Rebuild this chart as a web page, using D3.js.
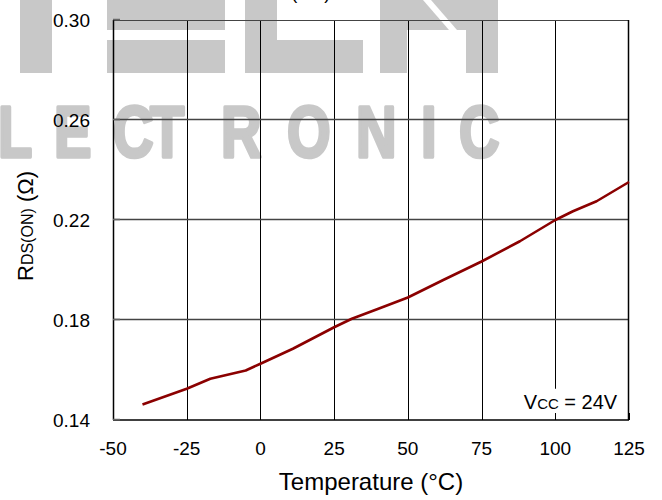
<!DOCTYPE html>
<html>
<head>
<meta charset="utf-8">
<script src="https://cdn.jsdelivr.net/npm/d3@7"></script>
<style>
  body { margin: 0; background: #fff; }
  text { font-family: "Liberation Sans", Arial, sans-serif; fill: #000; }
</style>
</head>
<body>
<div class="chart"></div>
<script>
// values
var temps = [-40, -25, -17, -5, 0, 11, 25, 31, 40, 50, 62, 75, 88, 100, 106, 114, 125];
var rdson = [0.1462, 0.1525, 0.1565, 0.1598, 0.1625, 0.1685, 0.1771, 0.1805, 0.1845, 0.1890, 0.1960, 0.2034, 0.2115, 0.2200, 0.2235, 0.2275, 0.2352];
var xTicks = [-50, -25, 0, 25, 50, 75, 100, 125];
var yTicks = [0.14, 0.18, 0.22, 0.26, 0.30];

var margin = { top: 20, right: 33, bottom: 80, left: 113 },
  width = 662 - margin.left - margin.right,
  height = 500 - margin.top - margin.bottom;

var root = d3.select(".chart").append("svg")
  .attr("width", 662)
  .attr("height", 500);

// watermark (behind everything)
var wm = root.append("g").attr("class", "watermark").style("fill", "#c8c8c8");
[[20, 0, 32, 73], [107, 0, 118, 30], [107, 40, 118, 33], [245, 0, 32, 73], [245, 40, 118, 33],
 [380, 0, 27, 73], [466, 0, 32, 73]].forEach(function(r) {
  wm.append("rect").attr("x", r[0]).attr("y", r[1]).attr("width", r[2]).attr("height", r[3]);
});
wm.append("polygon").attr("points", "407,0 423,0 449,30 407,30");
wm.append("polygon").attr("points", "431,0 466,0 466,30 457,30");
var sx = 0.78;
wm.append("text")
  .attr("transform", "scale(" + sx + ",1)")
  .attr("x", [-62, -2, 54, 113, 150, 221, 287, 356, 421, 459].map(function(v) { return v / sx; }).join(" "))
  .attr("y", 157)
  .style("font-size", "72px")
  .style("font-weight", "bold")
  .style("fill", "#c8c8c8")
  .style("stroke", "#c8c8c8")
  .style("stroke-width", 3.5)
  .style("stroke-linejoin", "round")
  .text("ELECTRONIC");

// cut-off title at the very top
var title = root.append("text").attr("x", 249).attr("y", -1).style("font-size", "24px");
title.append("tspan").text("R");
title.append("tspan").style("font-size", "18px").text("DS(ON)");

var svg = root.append("g")
  .attr("transform", "translate(" + margin.left + "," + margin.top + ")");

var x = d3.scaleLinear().domain([-50, 125]).range([0, width]);
var y = d3.scaleLinear().domain([0.14, 0.30]).range([height, 0]);

// grid
svg.selectAll(".vgrid")
  .data(xTicks.slice(1, -1))
  .enter().append("line")
    .attr("class", "vgrid")
    .attr("x1", function(d) { return Math.round(x(d)) + 0.5; })
    .attr("x2", function(d) { return Math.round(x(d)) + 0.5; })
    .attr("y1", 0)
    .attr("y2", height)
    .style("stroke", "#000")
    .style("stroke-width", 1);

svg.selectAll(".hgrid")
  .data(yTicks.slice(1, -1))
  .enter().append("line")
    .attr("class", "hgrid")
    .attr("x1", 0)
    .attr("x2", width)
    .attr("y1", function(d) { return Math.round(y(d)) - 0.5; })
    .attr("y2", function(d) { return Math.round(y(d)) - 0.5; })
    .style("stroke", "#444")
    .style("stroke-width", 1.5);

// frame
svg.append("line").attr("x1", 0).attr("x2", width).attr("y1", 0.5).attr("y2", 0.5)
  .style("stroke", "#444").style("stroke-width", 1);
svg.append("line").attr("x1", 0).attr("x2", width).attr("y1", height).attr("y2", height)
  .style("stroke", "#000").style("stroke-width", 1.5);
svg.append("line").attr("x1", 0.5).attr("x2", 0.5).attr("y1", 0).attr("y2", height)
  .style("stroke", "#000").style("stroke-width", 1.5);
svg.append("line").attr("x1", width - 0.5).attr("x2", width - 0.5).attr("y1", 0).attr("y2", height)
  .style("stroke", "#000").style("stroke-width", 1.5);

// curve
var line = d3.line()
  .x(function(d, i) { return x(temps[i]); })
  .y(function(d) { return y(d); });

svg.append("path")
  .datum(rdson)
  .attr("d", line)
  .style("fill", "none")
  .style("stroke", "#8b0000")
  .style("stroke-width", 2.6)
  .style("stroke-linejoin", "round");

// Vcc note with white box over the grid
svg.append("rect")
  .attr("x", x(93)).attr("y", y(0.1525))
  .attr("width", x(122) - x(93)).attr("height", y(0.1405) - y(0.1525))
  .style("fill", "#fff");
var note = svg.append("text")
  .attr("x", x(121))
  .attr("y", y(0.1444))
  .style("text-anchor", "end")
  .style("font-size", "20px");
note.append("tspan").text("V");
note.append("tspan").style("font-size", "15px").text("CC");
note.append("tspan").text(" = 24V");

// inward ticks
svg.selectAll(".xtick")
  .data(xTicks)
  .enter().append("line")
    .attr("x1", function(d) { return Math.round(x(d)) + 0.5; })
    .attr("x2", function(d) { return Math.round(x(d)) + 0.5; })
    .attr("y1", height)
    .attr("y2", height - 7)
    .style("stroke", "#000");
svg.selectAll(".ytick")
  .data(yTicks)
  .enter().append("line")
    .attr("x1", 0)
    .attr("x2", 7)
    .attr("y1", function(d) { return Math.round(y(d)) - 0.5; })
    .attr("y2", function(d) { return Math.round(y(d)) - 0.5; })
    .style("stroke", "#666")
    .style("stroke-width", 1.5);

// tick labels
svg.selectAll(".xlabel")
  .data(xTicks)
  .enter().append("text")
    .attr("x", function(d) { return x(d); })
    .attr("y", height + 35)
    .style("text-anchor", "middle")
    .style("font-size", "19px")
    .text(function(d) { return d; });

svg.selectAll(".ylabel")
  .data(yTicks)
  .enter().append("text")
    .attr("x", -23)
    .attr("y", function(d) { return y(d); })
    .attr("dy", "0.35em")
    .style("text-anchor", "end")
    .style("font-size", "19px")
    .text(function(d) { return d3.format(".2f")(d); });

// axis titles
svg.append("text")
  .attr("x", width / 2)
  .attr("y", height + 70)
  .style("text-anchor", "middle")
  .style("font-size", "24px")
  .text("Temperature (\u00b0C)");

var yt = svg.append("text")
  .attr("transform", "translate(" + (33 - margin.left) + "," + (226 - margin.top) + ") rotate(-90)")
  .style("text-anchor", "middle")
  .style("font-size", "22px");
yt.append("tspan").text("R");
yt.append("tspan").style("font-size", "16px").text("DS(ON)");
yt.append("tspan").text(" (\u03a9)");
</script>
</body>
</html>
